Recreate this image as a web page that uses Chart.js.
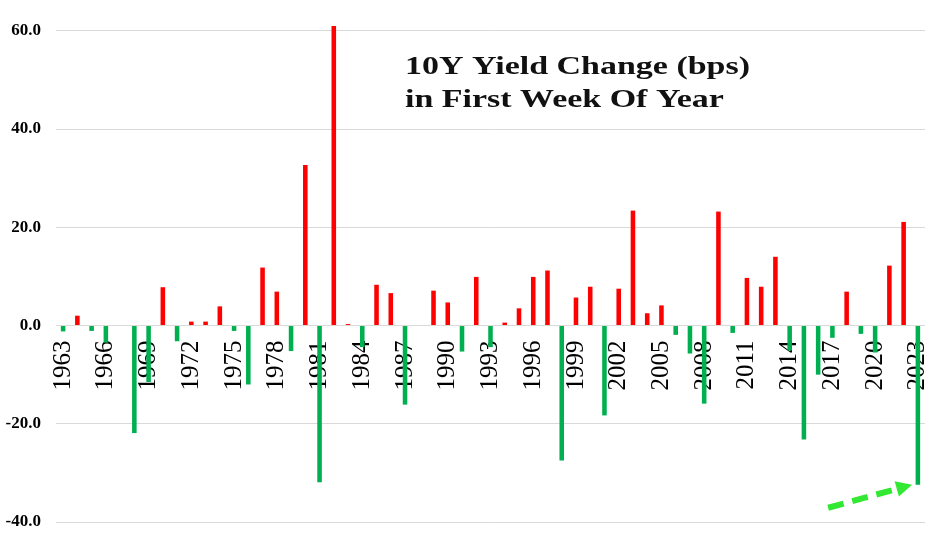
<!DOCTYPE html>
<html>
<head>
<meta charset="utf-8">
<script src="https://cdn.jsdelivr.net/npm/chart.js@4/dist/chart.umd.min.js"></script>
<style>
    body { margin: 0; background: #ffffff; }
    #wrap { width: 939px; height: 535px; }
</style>
</head>
<body>
<div id="wrap"><canvas id="yieldChart" width="939" height="535"></canvas></div>
<script>
// DATA
var years = [];
for (var y = 1963; y <= 2023; y++) {
    years.push(String(y));
}

var yieldChange = [
    -1.2, 2.0, -1.1, -3.5, 0, -21.9, -11.5, 7.8, -3.2, 0.8,
    0.8, 3.9, -1.1, -12.0, 11.8, 6.9, -5.2, 32.7, -31.9, 61.0,
    0.3, -4.4, 8.3, 6.6, -16.1, 0, 7.1, 4.7, -5.3, 9.9,
    -4.4, 0.6, 3.5, 9.9, 11.2, -27.5, 5.7, 7.9, -18.3, 7.5,
    23.4, 2.5, 4.1, -1.9, -5.7, -15.9, 23.2, -1.5, 9.7, 7.9,
    14.0, -5.1, -23.2, -10.0, -2.5, 6.9, -1.7, -5.5, 12.2, 21.1,
    -32.4
];

var yTicks = [-40, -20, 0, 20, 40, 60];

var titleLines = ["10Y Yield Change (bps)", "in First Week Of Year"];

// ARROW ANNOTATION (in data units: category index, value)
var arrowFrom = { x: 53.7, y: -37.1 };
var arrowTo = { x: 59.6, y: -32.4 };

var upColor = "#FF0000";
var downColor = "#00B050";

// TITLE TEXT INSIDE THE PLOT
var titlePlugin = {
    id: "titleText",
    afterDraw: function(chart) {
        var ctx = chart.ctx;
        ctx.save();
        ctx.fillStyle = "#111111";
        ctx.font = "bold 26px 'Liberation Serif', serif";
        ctx.textBaseline = "alphabetic";
        var w = ctx.measureText(titleLines[0]).width;
        var sx = 345 / w;
        for (var i = 0; i < titleLines.length; i++) {
            ctx.save();
            ctx.translate(405, 74 + i * 33);
            ctx.scale(sx, 1);
            ctx.fillText(titleLines[i], 0, 0);
            ctx.restore();
        }
        ctx.restore();
    }
};

// DASHED GREEN ARROW
var arrowPlugin = {
    id: "arrow",
    afterDraw: function(chart) {
        var xs = chart.scales.x;
        var ys = chart.scales.y;
        var x1 = xs.getPixelForValue(arrowFrom.x);
        var y1 = ys.getPixelForValue(arrowFrom.y);
        var x2 = xs.getPixelForValue(arrowTo.x);
        var y2 = ys.getPixelForValue(arrowTo.y);
        var ang = Math.atan2(y2 - y1, x2 - x1);
        var head = 16;
        var bx = x2 - head * Math.cos(ang);
        var by = y2 - head * Math.sin(ang);

        var ctx = chart.ctx;
        ctx.save();
        ctx.strokeStyle = "#33E833";
        ctx.fillStyle = "#33E833";
        ctx.lineWidth = 6;
        ctx.setLineDash([16, 9]);
        ctx.beginPath();
        ctx.moveTo(x1, y1);
        ctx.lineTo(bx, by);
        ctx.stroke();
        ctx.setLineDash([]);
        ctx.beginPath();
        ctx.moveTo(x2, y2);
        ctx.lineTo(bx + 8 * Math.sin(ang), by - 8 * Math.cos(ang));
        ctx.lineTo(bx - 8 * Math.sin(ang), by + 8 * Math.cos(ang));
        ctx.closePath();
        ctx.fill();
        ctx.restore();
    }
};

var ctx = document.getElementById("yieldChart").getContext("2d");
var yieldChart = new Chart(ctx, {
    type: "bar",
    data: {
        labels: years,
        datasets: [{
            data: yieldChange,
            backgroundColor: yieldChange.map(function(v) { return v >= 0 ? upColor : downColor; }),
            barPercentage: 0.32,
            categoryPercentage: 1.0
        }]
    },
    options: {
        responsive: false,
        animation: false,
        layout: {
            padding: { left: 1, right: 14, top: 21, bottom: 13 }
        },
        plugins: {
            legend: { display: false },
            tooltip: { enabled: false }
        },
        scales: {
            x: {
                position: { y: 0 },
                grid: { display: false, drawTicks: false },
                border: { display: false },
                afterFit: function(axis) {
                    axis.paddingLeft = 0;
                    axis.paddingRight = 0;
                },
                ticks: {
                    autoSkip: false,
                    minRotation: 90,
                    maxRotation: 90,
                    padding: 15,
                    color: "#000000",
                    font: { family: "'Liberation Serif', serif", size: 25 },
                    callback: function(val, index) {
                        return index % 3 === 0 ? this.getLabelForValue(val) : "";
                    }
                }
            },
            y: {
                min: -40,
                max: 62,
                afterBuildTicks: function(axis) {
                    axis.ticks = yTicks.map(function(v) { return { value: v }; });
                },
                afterFit: function(axis) {
                    axis.width = 55;
                    axis.paddingTop = 0;
                    axis.paddingBottom = 0;
                },
                grid: { color: "#D9D9D9", lineWidth: 1, drawTicks: false },
                border: { display: false },
                ticks: {
                    padding: 15,
                    color: "#000000",
                    font: { family: "'Liberation Serif', serif", size: 17, weight: "bold" },
                    callback: function(v) { return Number(v).toFixed(1); }
                }
            }
        }
    },
    plugins: [titlePlugin, arrowPlugin]
});
</script>
</body>
</html>
